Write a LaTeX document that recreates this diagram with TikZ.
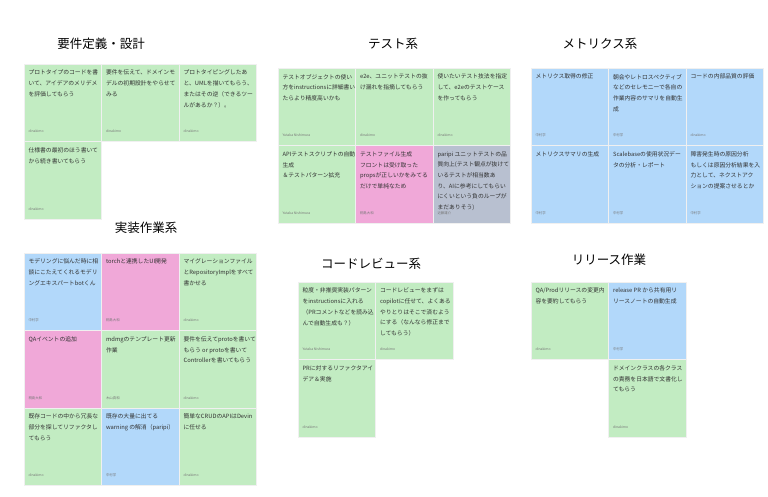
\documentclass[tikz,border=0pt]{standalone}
\usepackage{fontspec}
\setmainfont{Noto Sans CJK JP}
\usetikzlibrary{shadows}
\definecolor{ngreen}{RGB}{194,236,194}
\definecolor{nblue}{RGB}{178,216,250}
\definecolor{npink}{RGB}{240,168,216}
\definecolor{ngray}{RGB}{184,192,208}
\definecolor{ntext}{RGB}{50,50,50}
\definecolor{nauth}{RGB}{120,120,120}
\tikzset{
  note/.style={rectangle, inner sep=0pt, minimum width=77.5pt, minimum height=77.5pt,
    draw=black!6, line width=0.3pt,
    drop shadow={shadow xshift=0.5pt, shadow yshift=-0.8pt, opacity=0.18, fill=black}},
  notetext/.style={anchor=north west, inner sep=0pt, align=left, text=ntext,
    font=\fontsize{5.8}{10.7}\selectfont},
  author/.style={anchor=west, inner sep=0pt, text=nauth, font=\fontsize{3.4}{4}\selectfont},
  grouptitle/.style={inner sep=0pt, text=black, font=\fontsize{12.5}{14}\selectfont}
}
\newcommand\stickynote[6]{%
  \node[note, fill=#4] (#1) at (#2+38.75, #3+38.75) {};
  \node[notetext] (#1-t) at ([xshift=4.5pt, yshift=-6pt]#1.north west) {#5};
  \node[author] (#1-a) at ([xshift=4.5pt, yshift=10pt]#1.south west) {#6};
}
\begin{document}
\begin{tikzpicture}[x=1pt, y=-1pt]
\useasboundingbox[fill=white] (0,0) rectangle (768,497);

% ---------- 要件定義・設計 ----------
\node[grouptitle] (t1) at (101,44) {要件定義・設計};
\stickynote{a1}{24}{64}{ngreen}{プロトタイプのコードを書\\いて、アイデアのメリデメ\\を評価してもらう}{dinakimo}
\stickynote{a2}{101.5}{64}{ngreen}{要件を伝えて、ドメインモ\\デルの初期設計をやらせて\\みる}{dinakimo}
\stickynote{a3}{179}{64}{ngreen}{プロトタイピングしたあ\\と、UMLを描いてもらう、\\またはその逆（できるツー\\ルがあるか？）。}{dinakimo}
\stickynote{a4}{24}{141.5}{ngreen}{仕様書の最初のほう書いて\\から続き書いてもらう}{dinakimo}

% ---------- テスト系 ----------
\node[grouptitle] (t2) at (393,44) {テスト系};
\stickynote{b1}{278}{68}{ngreen}{テストオブジェクトの使い\\方をinstructionsに詳細書い\\たらより精度高いかも}{Yutaka Nishimura}
\stickynote{b2}{355.5}{68}{ngreen}{e2e、ユニットテストの抜\\け漏れを指摘してもらう}{dinakimo}
\stickynote{b3}{433}{68}{ngreen}{使いたいテスト技法を指定\\して、e2eのテストケース\\を作ってもらう}{dinakimo}
\stickynote{b4}{278}{145.5}{ngreen}{APIテストスクリプトの自動\\生成\\＆テストパターン拡充}{Yutaka Nishimura}
\stickynote{b5}{355.5}{145.5}{npink}{テストファイル生成\\フロントは受け取った\\propsが正しいかをみてる\\だけで単純なため}{桐島大和}
\stickynote{b6}{433}{145.5}{ngray}{paripi ユニットテストの品\\質向上(テスト観点が抜けて\\いるテストが相当数あ\\り、AIに参考にしてもらい\\にくいという負のループが\\まだありそう)}{近藤雄介}

% ---------- メトリクス系 ----------
\node[grouptitle] (t3) at (600,44) {メトリクス系};
\stickynote{c1}{531}{68}{nblue}{メトリクス取得の修正}{中村学}
\stickynote{c2}{608.5}{68}{nblue}{朝会やレトロスペクティブ\\などのセレモニーで各自の\\作業内容のサマリを自動生\\成}{中村学}
\stickynote{c3}{686}{68}{nblue}{コードの内部品質の評価}{dinakimo}
\stickynote{c4}{531}{145.5}{nblue}{メトリクスサマリの生成}{中村学}
\stickynote{c5}{608.5}{145.5}{nblue}{Scalebaseの使用状況デー\\タの分析・レポート}{中村学}
\stickynote{c6}{686}{145.5}{nblue}{障害発生時の原因分析\\もしくは原因分析結果を入\\力として、ネクストアク\\ションの提案させるとか}{中村学}

% ---------- 実装作業系 ----------
\node[grouptitle] (t4) at (146,228) {実装作業系};
\stickynote{d1}{24}{253}{nblue}{モデリングに悩んだ時に相\\談にこたえてくれるモデリ\\ングエキスパートbotくん}{中村学}
\stickynote{d2}{101.5}{253}{npink}{torchと連携したUI開発}{桐島大和}
\stickynote{d3}{179}{253}{ngreen}{マイグレーションファイル\\とRepositoryImplをすべて\\書かせる}{dinakimo}
\stickynote{d4}{24}{330.5}{npink}{QAイベントの追加}{桐島大和}
\stickynote{d5}{101.5}{330.5}{ngreen}{mdmgのテンプレート更新\\作業}{木山真和}
\stickynote{d6}{179}{330.5}{ngreen}{要件を伝えてprotoを書いて\\もらう or protoを書いて\\Controllerを書いてもらう}{dinakimo}
\stickynote{d7}{24}{408}{ngreen}{既存コードの中から冗長な\\部分を探してリファクタし\\てもらう}{dinakimo}
\stickynote{d8}{101.5}{408}{nblue}{既存の大量に出てる\\warning の解消（paripi）}{中村学}
\stickynote{d9}{179}{408}{ngreen}{簡単なCRUDのAPIはDevin\\に任せる}{dinakimo}

% ---------- コードレビュー系 ----------
\node[grouptitle] (t5) at (371,264) {コードレビュー系};
\stickynote{e1}{298}{282}{ngreen}{粒度・非推奨実装パターン\\をinstructionsに入れる\\（PRコメントなどを読み込\\んで自動生成も？）}{Yutaka Nishimura}
\stickynote{e2}{375.5}{282}{ngreen}{コードレビューをまずは\\copilotに任せて、よくある\\やりとりはそこで済むよう\\にする（なんなら修正まで\\してもらう）}{dinakimo}
\stickynote{e3}{298}{359.5}{ngreen}{PRに対するリファクタアイ\\デア＆実施}{dinakimo}

% ---------- リリース作業 ----------
\node[grouptitle] (t6) at (609,260) {リリース作業};
\stickynote{f1}{531}{282}{ngreen}{QA/Prodリリースの変更内\\容を要約してもらう}{dinakimo}
\stickynote{f2}{608.5}{282}{nblue}{release PR から共有用リ\\リースノートの自動生成}{中村学}
\stickynote{f3}{608.5}{359.5}{ngreen}{ドメインクラスの各クラス\\の責務を日本語で文書化し\\てもらう}{dinakimo}
\end{tikzpicture}
\end{document}
